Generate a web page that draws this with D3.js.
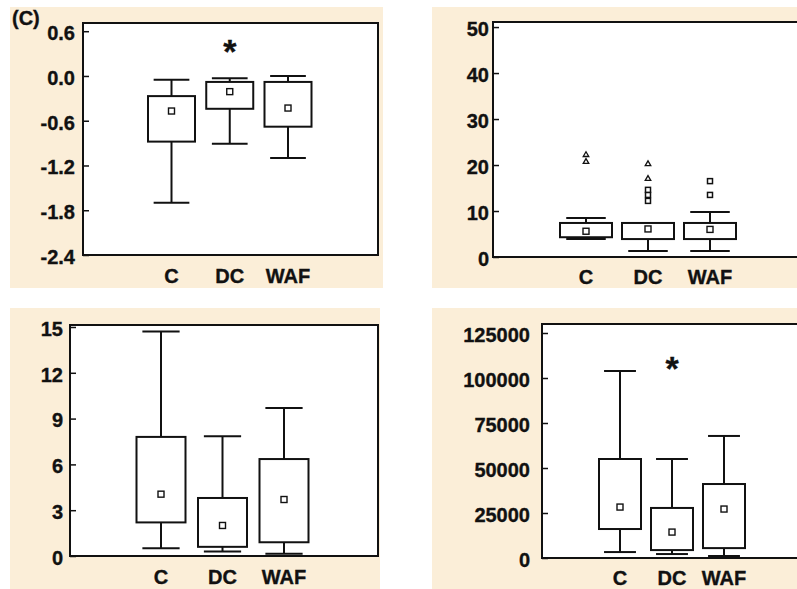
<!DOCTYPE html>
<html>
<head>
<meta charset="utf-8">
<script src="https://cdn.jsdelivr.net/npm/d3@7"></script>
<style>
  body { margin: 0; background: #fff; }
  svg { display: block; }
  text { font-family: "Liberation Sans", Arial, sans-serif; font-weight: bold; fill: #111; stroke: #111; stroke-width: 0.35px; }
</style>
</head>
<body>
<svg id="chart" width="797" height="589"></svg>
<script>
var groups = ["C", "DC", "WAF"];

// top left panel
var aLow  = [-1.70, -0.91, -1.10];
var aQ1   = [-0.88, -0.44, -0.68];
var aQ3   = [-0.27, -0.08, -0.08];
var aHigh = [-0.05, -0.03, 0.00];
var aMean = [-0.47, -0.21, -0.43];
var aTicks = [-2.4, -1.8, -1.2, -0.6, 0.0, 0.6];
var aStar = [["DC", 0.44]];

// top right panel
var bLow  = [3.9, 1.3, 1.3];
var bQ1   = [4.3, 3.9, 3.9];
var bQ3   = [7.4, 7.4, 7.4];
var bHigh = [8.5, 7.4, 9.8];
var bMean = [5.6, 6.1, 6.0];
var bTriangles = [["C", 20.7], ["C", 22.2], ["DC", 17.0], ["DC", 20.2]];
var bSquares = [["DC", 12.2], ["DC", 13.5], ["DC", 14.6], ["WAF", 13.5], ["WAF", 16.5]];
var bTicks = [0, 10, 20, 30, 40, 50];

// bottom left panel
var cLow  = [0.5, 0.3, 0.15];
var cQ1   = [2.2, 0.6, 0.9];
var cQ3   = [7.8, 3.8, 6.35];
var cHigh = [14.7, 7.85, 9.7];
var cMean = [4.05, 2.0, 3.7];
var cTicks = [0, 3, 6, 9, 12, 15];

// bottom right panel
var dLow  = [3300, 2200, 1100];
var dQ1   = [16100, 4400, 5500];
var dQ3   = [55000, 27800, 41100];
var dHigh = [103900, 55000, 67800];
var dMean = [28300, 14400, 27200];
var dTicks = [0, 25000, 50000, 75000, 100000, 125000];
var dStar = [["DC", 110000]];

var svg = d3.select("#chart");
var bg = "#fbeed8";
var ink = "#111";

function drawPanel(p) {
    var g = svg.append("g");

    // beige card
    g.append("rect")
        .attr("x", p.card[0]).attr("y", p.card[1])
        .attr("width", p.card[2] - p.card[0]).attr("height", p.card[3] - p.card[1])
        .attr("fill", bg);

    var x = d3.scalePoint().domain(groups).range([p.x0, p.x1]);
    var y = d3.scaleLinear().domain(p.domain).range([p.bottom, p.top]);

    // white plot area + frame
    g.append("rect")
        .attr("x", p.left).attr("y", p.top)
        .attr("width", p.right - p.left).attr("height", p.bottom - p.top)
        .attr("fill", "#fff").attr("stroke", ink).attr("stroke-width", 2);

    // y axis
    var ax = g.append("g")
        .attr("transform", "translate(" + p.left + ",0)")
        .call(d3.axisLeft(y).tickValues(p.ticks).tickSize(-6).tickPadding(p.pad)
              .tickFormat(p.fmt));
    ax.select(".domain").remove();
    ax.selectAll(".tick line").attr("stroke", ink).attr("stroke-width", 1.5);
    ax.selectAll(".tick text")
        .attr("font-size", 20).attr("fill", ink).attr("dy", "0.42em");

    // x labels
    g.selectAll(".xl").data(groups).enter().append("text")
        .attr("x", function(d) { return x(d); })
        .attr("y", p.labelY)
        .attr("text-anchor", "middle")
        .attr("font-size", 20)
        .text(function(d) { return d; });

    var rows = groups.map(function(k, i) {
        return { k: k, lo: p.low[i], q1: p.q1[i], q3: p.q3[i], hi: p.high[i], mean: p.mean[i] };
    });
    var bw = p.bw, cw = p.bw * 0.76;

    var box = g.selectAll(".box").data(rows).enter().append("g")
        .attr("fill", "none").attr("stroke", ink).attr("stroke-width", 2);
    // whiskers
    box.append("line")
        .attr("x1", function(d) { return x(d.k); }).attr("x2", function(d) { return x(d.k); })
        .attr("y1", function(d) { return y(d.hi); }).attr("y2", function(d) { return y(d.q3); });
    box.append("line")
        .attr("x1", function(d) { return x(d.k); }).attr("x2", function(d) { return x(d.k); })
        .attr("y1", function(d) { return y(d.q1); }).attr("y2", function(d) { return y(d.lo); });
    box.append("line")
        .attr("x1", function(d) { return x(d.k) - cw / 2; }).attr("x2", function(d) { return x(d.k) + cw / 2; })
        .attr("y1", function(d) { return y(d.hi); }).attr("y2", function(d) { return y(d.hi); });
    box.append("line")
        .attr("x1", function(d) { return x(d.k) - cw / 2; }).attr("x2", function(d) { return x(d.k) + cw / 2; })
        .attr("y1", function(d) { return y(d.lo); }).attr("y2", function(d) { return y(d.lo); });
    box.append("rect")
        .attr("x", function(d) { return x(d.k) - bw / 2; })
        .attr("y", function(d) { return y(d.q3); })
        .attr("width", bw)
        .attr("height", function(d) { return y(d.q1) - y(d.q3); })
        .attr("fill", "#fff");
    // mean marker
    box.append("rect")
        .attr("x", function(d) { return x(d.k) - 3; })
        .attr("y", function(d) { return y(d.mean) - 3; })
        .attr("width", 6).attr("height", 6)
        .attr("fill", "#fff").attr("stroke-width", 1.4);

    // outliers
    if (p.triangles) {
        g.selectAll(".tri").data(p.triangles).enter().append("path")
            .attr("d", d3.symbol(d3.symbolTriangle2, 22))
            .attr("transform", function(d) { return "translate(" + x(d[0]) + "," + y(d[1]) + ")"; })
            .attr("fill", "#fff").attr("stroke", ink).attr("stroke-width", 1.3);
    }
    if (p.squares) {
        g.selectAll(".sq").data(p.squares).enter().append("rect")
            .attr("x", function(d) { return x(d[0]) - 2.5; })
            .attr("y", function(d) { return y(d[1]) - 2.5; })
            .attr("width", 5).attr("height", 5)
            .attr("fill", "#fff").attr("stroke", ink).attr("stroke-width", 1.5);
    }
    if (p.star) {
        g.selectAll(".star").data(p.star).enter().append("text")
            .attr("x", function(d) { return x(d[0]); })
            .attr("y", function(d) { return y(d[1]) + 20; })
            .attr("text-anchor", "middle")
            .attr("font-size", 34)
            .text("*");
    }
}

// hyphen instead of unicode minus, like the original
var fmt1 = function(d) { return d3.format(".1f")(d).replace("\u2212", "-"); };

drawPanel({
    card: [10, 7, 383, 288], left: 83, right: 378, top: 23, bottom: 255,
    domain: [-2.4, 0.71], ticks: aTicks, fmt: fmt1, pad: 8,
    x0: 171.5, x1: 288, bw: 47, labelY: 283,
    low: aLow, q1: aQ1, q3: aQ3, high: aHigh, mean: aMean, star: aStar
});
drawPanel({
    card: [432, 7, 797, 288], left: 493, right: 812, top: 22, bottom: 257,
    domain: [0, 51.1], ticks: bTicks, fmt: d3.format("d"), pad: 4,
    x0: 586, x1: 710, bw: 52, labelY: 284,
    low: bLow, q1: bQ1, q3: bQ3, high: bHigh, mean: bMean,
    triangles: bTriangles, squares: bSquares
});
drawPanel({
    card: [10, 308, 380, 589], left: 70, right: 378, top: 325, bottom: 556,
    domain: [0, 15.13], ticks: cTicks, fmt: d3.format("d"), pad: 7,
    x0: 161, x1: 284, bw: 49, labelY: 584,
    low: cLow, q1: cQ1, q3: cQ3, high: cHigh, mean: cMean
});
drawPanel({
    card: [432, 308, 797, 589], left: 542, right: 812, top: 324, bottom: 558,
    domain: [0, 130000], ticks: dTicks, fmt: d3.format("d"), pad: 12,
    x0: 620, x1: 724, bw: 42, labelY: 585,
    low: dLow, q1: dQ1, q3: dQ3, high: dHigh, mean: dMean, star: dStar
});

// panel letter
svg.append("text").attr("x", 12).attr("y", 25).attr("font-size", 20).text("(C)");
</script>
</body>
</html>
